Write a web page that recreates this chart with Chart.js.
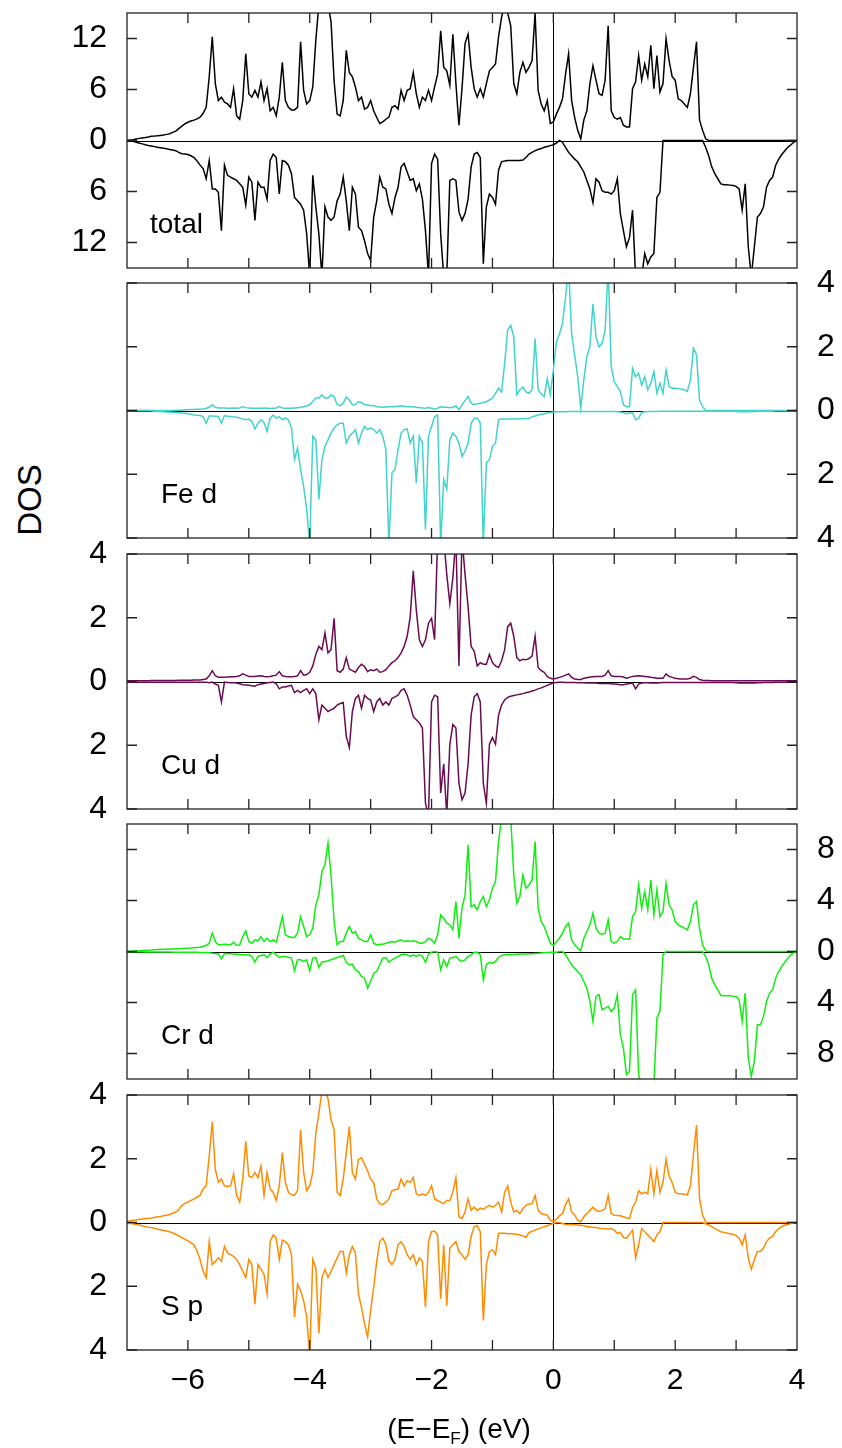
<!DOCTYPE html>
<html>
<head>
<meta charset="utf-8">
<title>DOS</title>
<script src="https://cdn.jsdelivr.net/npm/chart.js@4.4.0/dist/chart.umd.min.js"></script>
<style>
  html, body { margin: 0; padding: 0; background: #fff; }
  body { position: relative; width: 842px; height: 1448px; overflow: hidden;
         font-family: "Liberation Sans", Arial, Helvetica, sans-serif; }
  canvas.panel { position: absolute; left: 0; }
  #dos-label { position: absolute; left: 30px; top: 500px; font-size: 33px; color: #000;
               transform: translate(-50%, -50%) rotate(-90deg); white-space: nowrap; }
</style>
</head>
<body>
<div id="dos-label">DOS</div>
<script>
// Energy grid (eV), one row per eV
const energy = [
  -7, -6.95, -6.9, -6.85, -6.8, -6.75, -6.7, -6.65, -6.6, -6.55, -6.5, -6.45, -6.4, -6.35, -6.3, -6.25, -6.2, -6.15, -6.1, -6.05,
  -6, -5.95, -5.9, -5.85, -5.8, -5.75, -5.7, -5.65, -5.6, -5.55, -5.5, -5.45, -5.4, -5.35, -5.3, -5.25, -5.2, -5.15, -5.1, -5.05,
  -5, -4.95, -4.9, -4.85, -4.8, -4.75, -4.7, -4.65, -4.6, -4.55, -4.5, -4.45, -4.4, -4.35, -4.3, -4.25, -4.2, -4.15, -4.1, -4.05,
  -4, -3.95, -3.9, -3.85, -3.8, -3.75, -3.7, -3.65, -3.6, -3.55, -3.5, -3.45, -3.4, -3.35, -3.3, -3.25, -3.2, -3.15, -3.1, -3.05,
  -3, -2.95, -2.9, -2.85, -2.8, -2.75, -2.7, -2.65, -2.6, -2.55, -2.5, -2.45, -2.4, -2.35, -2.3, -2.25, -2.2, -2.15, -2.1, -2.05,
  -2, -1.95, -1.9, -1.85, -1.8, -1.75, -1.7, -1.65, -1.6, -1.55, -1.5, -1.45, -1.4, -1.35, -1.3, -1.25, -1.2, -1.15, -1.1, -1.05,
  -1, -0.95, -0.9, -0.85, -0.8, -0.75, -0.7, -0.65, -0.6, -0.55, -0.5, -0.45, -0.4, -0.35, -0.3, -0.25, -0.2, -0.15, -0.1, -0.05,
  0, 0.05, 0.1, 0.15, 0.2, 0.25, 0.3, 0.35, 0.4, 0.45, 0.5, 0.55, 0.6, 0.65, 0.7, 0.75, 0.8, 0.85, 0.9, 0.95,
  1, 1.05, 1.1, 1.15, 1.2, 1.25, 1.3, 1.35, 1.4, 1.45, 1.5, 1.55, 1.6, 1.65, 1.7, 1.75, 1.8, 1.85, 1.9, 1.95,
  2, 2.05, 2.1, 2.15, 2.2, 2.25, 2.3, 2.35, 2.4, 2.45, 2.5, 2.55, 2.6, 2.65, 2.7, 2.75, 2.8, 2.85, 2.9, 2.95,
  3, 3.05, 3.1, 3.15, 3.2, 3.25, 3.3, 3.35, 3.4, 3.45, 3.5, 3.55, 3.6, 3.65, 3.7, 3.75, 3.8, 3.85, 3.9, 3.95,
  4
];

// total DOS, spin up / spin down (down given as magnitude)
const totalUp = [
  0, 0.05, 0.1, 0.18, 0.25, 0.3, 0.35, 0.42, 0.5, 0.52, 0.55, 0.6, 0.65, 0.72, 0.8, 0.95, 1.1, 1.4, 1.7, 1.95,
  2.15, 2.3, 2.4, 2.55, 2.75, 3.2, 3.9, 7.5, 12.2, 6.7, 4.7, 5.1, 4.5, 4.3, 3.9, 6.1, 2.9, 2.5, 4.7, 10.2,
  5.5, 5.1, 5.9, 5.1, 6.9, 4.7, 6.1, 3.5, 3.9, 2.9, 5.1, 9.2, 4.7, 3.9, 3.6, 3.6, 3.9, 11.6, 5.9, 4.3,
  4.7, 6.3, 11.8, 16, 18, 17, 16, 14, 7, 3.1, 2.9, 4.7, 10.6, 8, 7.5, 6.3, 4.7, 5.1, 3.7, 3.9,
  4.7, 3.5, 2.7, 2.0, 2.2, 2.5, 2.75, 3.9, 4.1, 3.7, 5.9, 4.7, 5.9, 6.1, 8, 5.5, 3.9, 5.1, 4.7, 5.9,
  4.7, 6.3, 7.8, 12.9, 8.6, 8.2, 6.5, 12.5, 6.7, 1.8, 6.1, 11.4, 12.5, 8.6, 6.1, 5.1, 6.1, 5.1, 6.7, 8.2,
  8.6, 9, 12.2, 14.5, 16, 15, 13.5, 6.7, 5.5, 8, 9.2, 8, 8.6, 9.4, 15, 5.9, 4.3, 3.5, 4.7, 2.0,
  2.2, 3.1, 3.9, 4.9, 7.8, 10.2, 4.7, 2.7, 1.2, 0.2, 2.4, 3.5, 6.7, 8.8, 7.1, 5.5, 5.3, 7.1, 13.5, 3.5,
  2.7, 2.5, 2.7, 1.8, 1.6, 1.6, 6.1, 6.9, 10, 7.1, 9, 7.5, 11.2, 6.1, 10, 5.7, 6.7, 12, 9.4, 7.5,
  7.1, 4.9, 4.7, 4.3, 3.9, 5.5, 8.6, 11.6, 2.4, 1.2, 0.2, 0, 0, 0, 0, 0, 0, 0, 0, 0,
  0, 0, 0, 0, 0, 0, 0, 0, 0, 0, 0, 0, 0, 0, 0, 0, 0, 0, 0, 0,
  0
];
const totalDown = [
  0, 0.05, 0.1, 0.2, 0.3, 0.4, 0.5, 0.58, 0.65, 0.72, 0.8, 0.85, 0.9, 0.98, 1.05, 1.12, 1.2, 1.4, 1.55, 1.6,
  1.65, 1.8, 2.0, 2.4, 2.9, 3.3, 4.5, 2.35, 5.7, 5.7, 6.1, 10.6, 2.9, 4.1, 4.3, 4.5, 4.7, 5.1, 5.5, 7.6,
  4.3, 4.9, 9.4, 4.9, 5.5, 5.5, 6.9, 2.35, 1.6, 2.0, 6.3, 2.35, 2.5, 2.9, 3.9, 6.7, 7.1, 7.5, 8.2, 11,
  16, 4.1, 7.8, 11, 16, 7.8, 9, 9.4, 9, 7.1, 6.3, 4.3, 7.1, 10.6, 5.5, 6.3, 10.2, 10.6, 11.8, 13.3,
  14.1, 9, 7.1, 4.3, 5.5, 5.7, 7.5, 8.6, 6.7, 5.5, 3.1, 2.7, 3.7, 4.7, 4.5, 5.9, 5.1, 6.9, 10.6, 16,
  2.7, 1.6, 2.2, 11, 16, 16, 4.7, 4.5, 4.7, 8.4, 9.4, 8.6, 6.9, 3.1, 1.6, 1.4, 2.0, 14.5, 7.8, 6.3,
  6.7, 7.5, 3.5, 2.5, 2.4, 2.35, 2.35, 2.35, 2.35, 2.35, 2.3, 2.0, 1.6, 1.4, 1.2, 1.05, 0.95, 0.8, 0.7, 0.6,
  0.5, 0.3, 0, 0.2, 0.8, 1.4, 1.8, 2.2, 2.5, 3.1, 3.7, 4.7, 5.7, 7.3, 4.5, 4.9, 5.9, 6.1, 6.1, 6.3,
  5.9, 4.5, 8.6, 10.6, 12.5, 11.4, 8.2, 16, 16, 16, 13.3, 14.5, 13.7, 13.3, 6.7, 6.1, 0, 0, 0, 0,
  0, 0, 0, 0, 0, 0, 0, 0, 0, 0, 0.8, 1.8, 3.1, 3.9, 4.5, 5.1, 5.2, 5.2, 5.25, 5.3,
  5.4, 5.7, 8.2, 5.1, 12.5, 16, 12.5, 9, 8.6, 7.8, 5.5, 4.7, 4.3, 2.9, 2.2, 1.65, 1.2, 0.8, 0.5, 0.2,
  0
];

// Fe d
const feUp = [
  0, 0, 0, 0, 0, 0, 0, 0, 0, 0, 0, 0, 0, 0, 0, 0, 0.01, 0.01, 0.01, 0.02,
  0.02, 0.03, 0.03, 0.04, 0.04, 0.05, 0.07, 0.1, 0.18, 0.1, 0.08, 0.08, 0.08, 0.07, 0.07, 0.08, 0.07, 0.08, 0.12, 0.09,
  0.08, 0.07, 0.07, 0.07, 0.07, 0.08, 0.07, 0.06, 0.07, 0.08, 0.12, 0.08, 0.07, 0.07, 0.07, 0.08, 0.09, 0.1, 0.12, 0.14,
  0.18, 0.28, 0.39, 0.39, 0.49, 0.39, 0.39, 0.49, 0.44, 0.18, 0.15, 0.23, 0.42, 0.33, 0.18, 0.19, 0.28, 0.25, 0.18, 0.18,
  0.15, 0.16, 0.12, 0.11, 0.1, 0.11, 0.12, 0.12, 0.12, 0.13, 0.15, 0.13, 0.12, 0.12, 0.12, 0.1, 0.09, 0.08, 0.07, 0.09,
  0.07, 0.04, 0.07, 0.12, 0.1, 0.1, 0.09, 0.1, 0.15, 0.02, 0.18, 0.31, 0.44, 0.23, 0.18, 0.21, 0.23, 0.25, 0.28, 0.33,
  0.39, 0.54, 0.7, 0.58, 1.48, 2.52, 2.67, 2.31, 0.5, 0.65, 0.73, 0.58, 0.54, 0.65, 2.26, 0.65, 0.52, 0.44, 1.0, 0.5,
  1.27, 2.15, 2.4, 2.73, 3.56, 4.5, 2.4, 1.74, 1.06, 0.07, 0.96, 1.69, 2.0, 3.35, 2.31, 2.0, 2.1, 2.52, 4.5, 1.38,
  0.9, 0.75, 0.6, 0.18, 0.12, 0.12, 1.32, 1.06, 1.17, 0.8, 1.06, 0.65, 0.85, 1.22, 0.54, 0.85, 0.54, 1.27, 0.75, 0.7,
  0.7, 0.69, 0.67, 0.65, 0.6, 0.96, 1.95, 1.75, 0.33, 0.12, 0, 0, 0, 0, 0, 0, 0, 0, 0, 0,
  0, 0, 0, 0, 0, 0, 0, 0, 0, 0, 0, 0, 0, 0, 0, 0, 0, 0, 0, 0,
  0
];
const feDown = [
  0, 0, 0, 0, 0, 0, 0, 0, 0.01, 0.02, 0.03, 0.03, 0.04, 0.05, 0.05, 0.06, 0.06, 0.07, 0.08, 0.09,
  0.1, 0.12, 0.14, 0.15, 0.16, 0.19, 0.4, 0.17, 0.17, 0.18, 0.19, 0.4, 0.16, 0.18, 0.19, 0.2, 0.21, 0.24, 0.27, 0.29,
  0.27, 0.34, 0.58, 0.4, 0.29, 0.38, 0.66, 0.24, 0.14, 0.24, 0.19, 0.29, 0.24, 0.29, 0.55, 1.54, 1.18, 1.85, 2.38, 3.1,
  4.2, 0.81, 0.92, 2.79, 1.54, 1.13, 0.92, 0.71, 0.55, 0.45, 0.4, 0.4, 1.02, 0.81, 0.71, 0.6, 1.02, 0.71, 0.5, 0.6,
  0.55, 0.6, 0.71, 0.6, 0.81, 1.23, 4.2, 1.96, 1.85, 1.23, 0.71, 0.6, 0.58, 1.02, 0.81, 2.27, 0.81, 1.02, 3.73, 0.81,
  0.5, 0.19, 0.14, 4.2, 2.17, 2.48, 0.92, 0.71, 0.81, 1.02, 1.44, 1.28, 1.02, 0.4, 0.24, 0.24, 0.4, 4.2, 1.65, 1.54,
  1.13, 1.02, 0.29, 0.27, 0.27, 0.27, 0.27, 0.27, 0.27, 0.26, 0.26, 0.25, 0.24, 0.2, 0.17, 0.14, 0.12, 0.1, 0.08, 0.06,
  0.05, 0.04, 0.04, 0.04, 0.04, 0.03, 0.03, 0.03, 0.03, 0.03, 0.03, 0.03, 0.03, 0.03, 0.03, 0.03, 0.03, 0.03, 0.03, 0.03,
  0.03, 0.04, 0.05, 0.07, 0.1, 0.08, 0.06, 0.29, 0.25, 0.06, 0.04, 0.03, 0.03, 0.03, 0.03, 0.02, 0.02, 0.02, 0.02, 0.02,
  0.02, 0.02, 0.02, 0.02, 0.02, 0.02, 0.02, 0.02, 0.02, 0.02, 0.02, 0.02, 0.02, 0.02, 0.02, 0.02, 0.02, 0.02, 0.02, 0.02,
  0.03, 0.04, 0.04, 0.04, 0.04, 0.03, 0.03, 0.02, 0.02, 0.02, 0.02, 0.02, 0.02, 0.01, 0.01, 0.01, 0.01, 0.01, 0.01, 0.01,
  0
];

// Cu d
const cuUp = [
  0.02, 0.02, 0.02, 0.02, 0.02, 0.02, 0.02, 0.02, 0.03, 0.03, 0.03, 0.03, 0.03, 0.03, 0.03, 0.03, 0.03, 0.04, 0.04, 0.04,
  0.04, 0.04, 0.05, 0.05, 0.05, 0.06, 0.08, 0.18, 0.34, 0.18, 0.13, 0.13, 0.13, 0.14, 0.15, 0.15, 0.16, 0.18, 0.24, 0.2,
  0.16, 0.16, 0.16, 0.17, 0.18, 0.16, 0.15, 0.16, 0.18, 0.2, 0.31, 0.18, 0.16, 0.15, 0.15, 0.16, 0.18, 0.34, 0.2, 0.22,
  0.29, 0.49, 0.85, 1.1, 1.0, 1.52, 0.9, 1.0, 1.98, 0.34, 0.29, 0.39, 0.75, 0.39, 0.34, 0.29, 0.44, 0.54, 0.47, 0.31,
  0.37, 0.34, 0.39, 0.29, 0.31, 0.37, 0.49, 0.59, 0.65, 0.75, 0.9, 1.1, 1.42, 2.03, 3.47, 2.24, 1.31, 1.1, 1.31, 1.83,
  1.98, 1.31, 4.5, 4.5, 4.5, 3.36, 2.44, 3.26, 4.5, 0.49, 4.5, 3.36, 2.34, 1.1, 0.95, 0.49, 0.59, 0.54, 0.54, 0.85,
  0.59, 0.49, 0.44, 0.65, 1.0, 1.72, 1.83, 1.42, 0.75, 0.65, 0.7, 0.68, 0.72, 0.8, 1.42, 0.44, 0.34, 0.29, 0.16, 0.1,
  0.08, 0.1, 0.13, 0.16, 0.2, 0.24, 0.13, 0.08, 0.06, 0.06, 0.1, 0.12, 0.14, 0.15, 0.16, 0.16, 0.16, 0.2, 0.34, 0.18,
  0.16, 0.16, 0.16, 0.14, 0.1, 0.13, 0.16, 0.17, 0.18, 0.17, 0.16, 0.15, 0.13, 0.12, 0.1, 0.1, 0.1, 0.24, 0.16, 0.13,
  0.1, 0.09, 0.08, 0.08, 0.08, 0.1, 0.16, 0.13, 0.06, 0.04, 0.03, 0.03, 0.02, 0.02, 0.02, 0.02, 0.02, 0.02, 0.02, 0.02,
  0.02, 0.02, 0.02, 0.02, 0.02, 0.02, 0.02, 0.02, 0.02, 0.02, 0.02, 0.02, 0.02, 0.02, 0.02, 0.02, 0.02, 0.02, 0.02, 0.02,
  0.02
];
const cuDown = [
  0.02, 0.02, 0.02, 0.02, 0.02, 0.02, 0.02, 0.02, 0.02, 0.02, 0.02, 0.02, 0.02, 0.02, 0.02, 0.02, 0.02, 0.02, 0.02, 0.02,
  0.02, 0.02, 0.02, 0.02, 0.02, 0.02, 0.02, 0.04, 0.02, 0.08, 0.12, 0.64, 0.02, 0.03, 0.04, 0.04, 0.05, 0.07, 0.1, 0.11,
  0.12, 0.13, 0.15, 0.1, 0.08, 0.06, 0.04, 0.03, 0.02, 0.07, 0.23, 0.17, 0.17, 0.14, 0.12, 0.35, 0.28, 0.35, 0.28, 0.23,
  0.38, 0.23, 0.38, 1.2, 0.74, 0.84, 0.94, 0.89, 0.84, 0.74, 0.69, 0.66, 1.72, 2.07, 0.94, 0.53, 0.43, 0.84, 0.43, 0.53,
  0.58, 0.94, 0.64, 0.53, 0.74, 0.64, 0.74, 0.53, 0.48, 0.43, 0.28, 0.23, 0.43, 0.74, 1.1, 1.2, 1.3, 1.46, 3.82, 4.2,
  0.64, 0.43, 0.48, 3.5, 2.58, 4.2, 1.97, 1.35, 1.46, 3.2, 3.71, 3.5, 2.58, 1.05, 0.48, 0.38, 0.64, 3.2, 3.82, 1.97,
  1.76, 1.97, 1.05, 0.74, 0.58, 0.5, 0.46, 0.44, 0.42, 0.4, 0.38, 0.35, 0.33, 0.3, 0.27, 0.23, 0.2, 0.16, 0.12, 0.08,
  0.04, 0.03, 0.02, 0.02, 0.03, 0.03, 0.03, 0.03, 0.04, 0.04, 0.04, 0.05, 0.05, 0.05, 0.05, 0.06, 0.06, 0.06, 0.06, 0.07,
  0.08, 0.09, 0.1, 0.1, 0.08, 0.06, 0.05, 0.23, 0.08, 0.05, 0.04, 0.04, 0.05, 0.05, 0.05, 0.04, 0.03, 0.03, 0.03, 0.03,
  0.03, 0.03, 0.03, 0.03, 0.03, 0.03, 0.03, 0.03, 0.03, 0.03, 0.03, 0.03, 0.03, 0.03, 0.03, 0.03, 0.03, 0.03, 0.03, 0.03,
  0.04, 0.05, 0.05, 0.05, 0.05, 0.05, 0.05, 0.04, 0.04, 0.03, 0.03, 0.03, 0.03, 0.02, 0.02, 0.02, 0.02, 0.02, 0.01, 0.01,
  0.01
];

// Cr d
const crUp = [
  0, 0.02, 0.03, 0.05, 0.06, 0.08, 0.09, 0.1, 0.11, 0.13, 0.15, 0.16, 0.17, 0.18, 0.19, 0.2, 0.21, 0.22, 0.23, 0.25,
  0.26, 0.28, 0.3, 0.32, 0.34, 0.39, 0.47, 0.65, 1.44, 0.78, 0.52, 0.55, 0.57, 0.55, 0.52, 0.73, 0.47, 0.52, 1.17, 1.62,
  0.78, 0.65, 0.91, 0.84, 1.17, 0.78, 1.04, 0.78, 0.91, 0.73, 1.7, 2.74, 1.31, 1.17, 1.1, 1.1, 1.44, 2.74, 1.96, 1.17,
  1.31, 1.83, 3.66, 4.44, 6.27, 6.79, 8.49, 6.0, 2.35, 0.52, 0.78, 0.78, 1.44, 1.96, 1.44, 1.57, 1.04, 0.91, 0.78, 0.78,
  1.31, 0.65, 0.52, 0.57, 0.57, 0.65, 0.73, 0.78, 0.73, 0.84, 0.91, 0.78, 0.84, 0.78, 0.84, 0.78, 0.65, 0.65, 0.78, 1.04,
  0.91, 0.65, 1.31, 2.87, 2.61, 2.22, 2.09, 1.7, 3.92, 1.04, 3.39, 4.44, 8.36, 3.52, 3.66, 3.26, 3.92, 4.31, 3.52, 4.05,
  4.96, 5.48, 8.62, 10.5, 11, 10.5, 10.5, 6.0, 3.79, 4.31, 6.0, 4.96, 5.22, 5.61, 8.62, 3.39, 2.35, 1.96, 1.31, 0.65,
  0.47, 0.78, 1.04, 1.44, 1.96, 2.22, 0.91, 0.52, 0.26, 0.05, 1.04, 1.57, 2.09, 3.0, 1.83, 1.44, 1.36, 1.44, 2.48, 0.78,
  0.65, 0.78, 1.17, 0.99, 0.99, 0.99, 2.74, 3.13, 5.22, 3.39, 4.7, 3.26, 5.61, 2.87, 4.83, 2.74, 3.13, 5.35, 3.66, 3.26,
  2.35, 2.09, 1.96, 1.83, 1.7, 2.35, 3.66, 3.92, 1.83, 0.52, 0.05, 0, 0, 0, 0, 0, 0, 0, 0, 0,
  0, 0, 0, 0, 0, 0, 0, 0, 0, 0, 0, 0, 0, 0, 0, 0, 0, 0, 0, 0,
  0
];
const crDown = [
  0, 0.01, 0.01, 0.02, 0.02, 0.02, 0.03, 0.03, 0.03, 0.03, 0.04, 0.04, 0.04, 0.04, 0.04, 0.05, 0.05, 0.05, 0.05, 0.05,
  0.05, 0.05, 0.06, 0.06, 0.07, 0.07, 0.08, 0.1, 0.13, 0.15, 0.18, 0.57, 0.16, 0.17, 0.18, 0.19, 0.21, 0.23, 0.26, 0.26,
  0.26, 0.39, 0.84, 0.39, 0.31, 0.26, 0.47, 0.21, 0.05, 0.26, 0.47, 0.39, 0.39, 0.45, 0.52, 1.51, 0.65, 0.65, 0.78, 0.65,
  1.51, 0.52, 0.47, 1.25, 0.84, 0.78, 0.73, 0.65, 0.57, 0.47, 0.39, 0.31, 0.84, 1.04, 0.99, 1.44, 1.57, 1.96, 2.09, 2.87,
  2.35, 1.7, 1.57, 1.04, 0.52, 0.47, 0.84, 0.65, 0.52, 0.39, 0.26, 0.21, 0.26, 0.39, 0.26, 0.39, 0.26, 0.39, 0.84, 0.21,
  0.05, 0, 0.05, 1.44, 0.65, 1.17, 0.52, 0.47, 0.39, 0.65, 0.78, 0.65, 0.39, 0.26, 0.05, 0.05, 0.26, 2.22, 1.04, 0.84,
  0.91, 0.78, 0.47, 0.31, 0.26, 0.25, 0.24, 0.23, 0.22, 0.21, 0.2, 0.19, 0.18, 0.17, 0.15, 0.14, 0.12, 0.1, 0.08, 0.06,
  0.05, 0.05, 0, 0, 0.26, 0.65, 1.04, 1.31, 1.57, 1.83, 2.35, 2.87, 3.92, 5.48, 3.52, 3.39, 4.57, 4.44, 4.31, 4.7,
  4.44, 3.39, 6.53, 7.57, 9.66, 9.4, 3.39, 3.0, 9.66, 10.5, 10.5, 10.5, 10.5, 10.5, 5.22, 4.7, 0.26, 0, 0, 0,
  0, 0, 0, 0, 0, 0, 0, 0, 0, 0, 0.39, 1.04, 2.09, 2.61, 3.0, 3.45, 3.47, 3.47, 3.47, 3.5,
  3.52, 3.79, 5.48, 3.26, 8.36, 9.79, 8.62, 5.74, 5.74, 5.09, 3.92, 3.26, 3.0, 2.09, 1.57, 1.17, 0.84, 0.52, 0.26, 0.08,
  0
];

// S p
const spUp = [
  0.04, 0.05, 0.07, 0.08, 0.1, 0.11, 0.12, 0.13, 0.14, 0.16, 0.18, 0.19, 0.21, 0.23, 0.25, 0.29, 0.33, 0.4, 0.54, 0.6,
  0.64, 0.69, 0.74, 0.8, 0.85, 1.05, 1.15, 2.08, 3.16, 1.67, 1.26, 1.36, 1.15, 1.13, 1.15, 1.52, 0.85, 0.64, 1.36, 2.55,
  1.46, 1.41, 1.57, 1.41, 1.77, 0.85, 1.57, 1.05, 0.95, 0.69, 1.15, 2.19, 1.26, 0.95, 0.87, 0.85, 1.0, 2.91, 1.57, 1.0,
  1.15, 1.57, 2.8, 3.42, 4.1, 4.1, 3.89, 3.22, 2.91, 0.95, 0.85, 1.36, 2.19, 3.01, 1.57, 1.36, 1.98, 2.03, 1.82, 1.62,
  1.36, 1.26, 0.74, 0.59, 0.56, 0.64, 0.74, 1.0, 1.03, 1.05, 1.36, 1.15, 1.31, 1.26, 1.41, 0.9, 0.85, 0.9, 0.85, 0.95,
  1.15, 0.74, 0.69, 0.64, 0.59, 0.69, 0.69, 0.95, 1.41, 0.18, 0.12, 0.33, 0.74, 0.38, 0.48, 0.38, 0.45, 0.41, 0.48, 0.54,
  0.48, 0.54, 0.64, 0.33, 0.95, 1.15, 0.64, 0.33, 0.38, 0.28, 0.43, 0.54, 0.58, 0.59, 0.85, 0.38, 0.28, 0.25, 0.23, 0.07,
  0.04, 0.1, 0.21, 0.28, 0.56, 0.74, 0.33, 0.23, 0.07, 0.02, 0.18, 0.28, 0.38, 0.48, 0.38, 0.35, 0.38, 0.43, 0.85, 0.28,
  0.23, 0.22, 0.21, 0.18, 0.14, 0.12, 0.48, 0.64, 1.0, 0.9, 0.95, 0.9, 1.67, 0.9, 1.62, 0.95, 1.26, 1.98, 1.46, 1.26,
  0.95, 0.9, 0.9, 0.89, 0.87, 1.15, 2.13, 3.06, 0.74, 0.23, 0.02, 0, 0, 0, 0, 0, 0, 0, 0, 0,
  0, 0, 0, 0, 0, 0, 0, 0, 0, 0, 0, 0, 0, 0, 0, 0, 0, 0, 0, 0,
  0
];
const spDown = [
  0.02, 0.03, 0.04, 0.06, 0.08, 0.1, 0.13, 0.15, 0.16, 0.18, 0.21, 0.23, 0.25, 0.27, 0.29, 0.33, 0.37, 0.42, 0.47, 0.52,
  0.58, 0.64, 0.7, 0.9, 1.16, 1.53, 1.73, 0.6, 1.32, 1.22, 1.11, 1.22, 0.75, 0.96, 1.01, 1.06, 1.16, 1.32, 1.53, 1.73,
  1.16, 1.32, 2.56, 1.32, 1.47, 1.63, 2.25, 0.6, 0.39, 0.49, 1.16, 0.55, 0.6, 0.7, 1.01, 2.97, 1.94, 2.14, 2.45, 2.97,
  4.2, 1.16, 1.42, 3.48, 1.73, 1.47, 1.73, 1.53, 1.32, 1.11, 0.91, 0.91, 1.58, 1.01, 0.75, 0.96, 2.25, 2.66, 3.18, 3.59,
  2.76, 2.04, 1.22, 0.6, 0.49, 0.7, 1.22, 1.32, 1.16, 0.7, 0.6, 0.75, 1.01, 1.16, 1.01, 1.32, 1.11, 1.22, 2.66, 0.6,
  0.29, 0.27, 0.39, 2.4, 0.7, 2.61, 0.8, 0.7, 0.6, 0.91, 1.01, 1.16, 1.01, 0.44, 0.13, 0.1, 0.29, 3.07, 1.32, 0.91,
  0.86, 1.01, 0.34, 0.34, 0.34, 0.35, 0.35, 0.36, 0.37, 0.39, 0.42, 0.47, 0.32, 0.28, 0.24, 0.2, 0.17, 0.13, 0.1, 0.06,
  0.03, 0, 0, 0.03, 0.06, 0.06, 0.06, 0.07, 0.08, 0.09, 0.1, 0.13, 0.13, 0.15, 0.16, 0.18, 0.19, 0.19, 0.21, 0.19,
  0.24, 0.34, 0.31, 0.47, 0.49, 0.37, 0.24, 1.11, 0.7, 0.19, 0.29, 0.39, 0.49, 0.6, 0.39, 0.29, 0, 0, 0, 0,
  0, 0, 0, 0, 0, 0, 0, 0, 0, 0, 0.04, 0.08, 0.13, 0.19, 0.24, 0.29, 0.31, 0.33, 0.35, 0.37,
  0.41, 0.49, 0.7, 0.39, 1.11, 1.47, 1.16, 0.91, 0.91, 0.8, 0.6, 0.49, 0.44, 0.29, 0.19, 0.13, 0.08, 0.06, 0.03, 0.01,
  0
];

// Tick labels
const energyTicks = [-6, -4, -2, 0, 2, 4];
const totalTicks = [-12, -6, 0, 6, 12];
const feTicks = [-4, -2, 0, 2, 4];
const cuTicks = [-4, -2, 0, 2, 4];
const crTicks = [-8, -4, 0, 4, 8];
const spTicks = [-4, -2, 0, 2, 4];
const panelNames = ['total', 'Fe d', 'Cu d', 'Cr d', 'S p'];

// Mise en page
const FONT = '"Liberation Sans", Arial, Helvetica, sans-serif';
const W = 842;
const PLOT_LEFT = 127;
const PLOT_RIGHT = 797;
const PLOT_H = 255;
const PAD = 42;          // >= demi-hauteur du label + padding des ticks
const X_AXIS_H = 100;
const panelTops = [13, 283, 553.5, 824, 1095];

const panels = [
  { name: panelNames[0], up: totalUp, down: totalDown, ticks: totalTicks, range: 15, color: '#000000', side: 'left', labelX: 150 },
  { name: panelNames[1], up: feUp, down: feDown, ticks: feTicks, range: 4, color: '#40d4cc', side: 'right', labelX: 161 },
  { name: panelNames[2], up: cuUp, down: cuDown, ticks: cuTicks, range: 4, color: '#6a0c50', side: 'left', labelX: 161 },
  { name: panelNames[3], up: crUp, down: crDown, ticks: crTicks, range: 10, color: '#10ee10', side: 'right', labelX: 161 },
  { name: panelNames[4], up: spUp, down: spDown, ticks: spTicks, range: 4, color: '#ff8c00', side: 'left', labelX: 161 }
];

// Cadre, graduations intérieures, lignes du zéro et étiquette du panneau
const dosFrame = {
  id: 'dosFrame',
  beforeDatasetsDraw(chart) {
    const { ctx, chartArea: a, scales: { x, y } } = chart;
    ctx.save();
    ctx.strokeStyle = '#000';
    ctx.lineWidth = 1;
    const y0 = Math.round(y.getPixelForValue(0)) + 0.5;
    const x0 = Math.round(x.getPixelForValue(0)) + 0.5;
    ctx.beginPath();
    ctx.moveTo(a.left, y0);
    ctx.lineTo(a.right, y0);
    ctx.moveTo(x0, a.top);
    ctx.lineTo(x0, a.bottom);
    ctx.stroke();
    ctx.restore();
  },
  afterDatasetsDraw(chart, args, opts) {
    const { ctx, chartArea: a, scales: { x, y } } = chart;
    const len = 10;
    ctx.save();
    ctx.strokeStyle = '#222';
    ctx.lineWidth = 1.3;
    ctx.beginPath();
    y.ticks.forEach(t => {
      const py = y.getPixelForValue(t.value);
      ctx.moveTo(a.left, py); ctx.lineTo(a.left + len, py);
      ctx.moveTo(a.right, py); ctx.lineTo(a.right - len, py);
    });
    for (let e = Math.ceil(x.min) + 1; e < x.max; e++) {
      const px = x.getPixelForValue(e);
      ctx.moveTo(px, a.top); ctx.lineTo(px, a.top + len);
      ctx.moveTo(px, a.bottom); ctx.lineTo(px, a.bottom - len);
    }
    ctx.stroke();
    ctx.strokeRect(a.left, a.top, a.right - a.left, a.bottom - a.top);

    ctx.fillStyle = '#000';
    ctx.textBaseline = 'alphabetic';
    ctx.textAlign = 'left';
    ctx.font = '28px ' + FONT;
    ctx.fillText(opts.name, opts.labelX, a.top + 220);

    if (opts.xTitle) {
      // (E−E_F) (eV) avec indice
      const parts = [
        { t: '(E\u2212E', size: 28, dy: 0 },
        { t: 'F', size: 17, dy: 6 },
        { t: ') (eV)', size: 28, dy: 0 }
      ];
      let total = 0;
      parts.forEach(p => { ctx.font = p.size + 'px ' + FONT; p.w = ctx.measureText(p.t).width; total += p.w; });
      let cx = 459 - total / 2;
      const base = a.bottom + 88;
      parts.forEach(p => {
        ctx.font = p.size + 'px ' + FONT;
        ctx.fillText(p.t, cx, base + p.dy);
        cx += p.w;
      });
    }
    ctx.restore();
  }
};

panels.forEach((p, i) => {
  const last = i === panels.length - 1;
  const canvas = document.createElement('canvas');
  canvas.className = 'panel';
  canvas.width = W;
  canvas.height = PAD + PLOT_H + (last ? X_AXIS_H : PAD);
  canvas.style.width = W + 'px';
  canvas.style.height = canvas.height + 'px';
  canvas.style.top = (panelTops[i] - PAD) + 'px';
  document.body.appendChild(canvas);

  const upPoints = energy.map((e, k) => ({ x: e, y: p.up[k] }));
  const downPoints = energy.map((e, k) => ({ x: e, y: -p.down[k] }));

  new Chart(canvas, {
    type: 'line',
    data: {
      datasets: [
        { label: p.name + ' up', data: upPoints, borderColor: p.color },
        { label: p.name + ' down', data: downPoints, borderColor: p.color }
      ]
    },
    options: {
      responsive: false,
      animation: false,
      events: [],
      layout: {
        padding: {
          top: PAD,
          bottom: last ? 0 : PAD,
          left: p.side === 'left' ? 0 : PLOT_LEFT,
          right: p.side === 'left' ? W - PLOT_RIGHT : 0
        }
      },
      elements: {
        line: { borderWidth: 1.5, tension: 0, fill: false },
        point: { radius: 0 }
      },
      plugins: {
        legend: { display: false },
        tooltip: { enabled: false },
        dosFrame: { name: p.name, labelX: p.labelX, xTitle: last }
      },
      scales: {
        x: {
          type: 'linear',
          min: -7,
          max: 4,
          display: last,
          afterBuildTicks: s => { s.ticks = energyTicks.map(v => ({ value: v })); },
          afterFit: s => { s.height = last ? X_AXIS_H : 0; },
          grid: { display: false, drawTicks: false },
          border: { display: false },
          ticks: {
            padding: 13,
            color: '#000',
            autoSkip: false,
            maxRotation: 0,
            font: { family: FONT, size: 30 },
            callback: v => v < 0 ? '\u2212' + (-v) : String(v)
          }
        },
        y: {
          type: 'linear',
          position: p.side,
          min: -p.range,
          max: p.range,
          afterBuildTicks: s => { s.ticks = p.ticks.map(v => ({ value: v })); },
          afterFit: s => { s.width = p.side === 'left' ? PLOT_LEFT : W - PLOT_RIGHT; },
          grid: { display: false, drawTicks: false },
          border: { display: false },
          ticks: {
            padding: 20,
            color: '#000',
            autoSkip: false,
            font: { family: FONT, size: 32 },
            callback: v => String(Math.abs(v))
          }
        }
      }
    },
    plugins: [dosFrame]
  });
});
</script>
</body>
</html>
